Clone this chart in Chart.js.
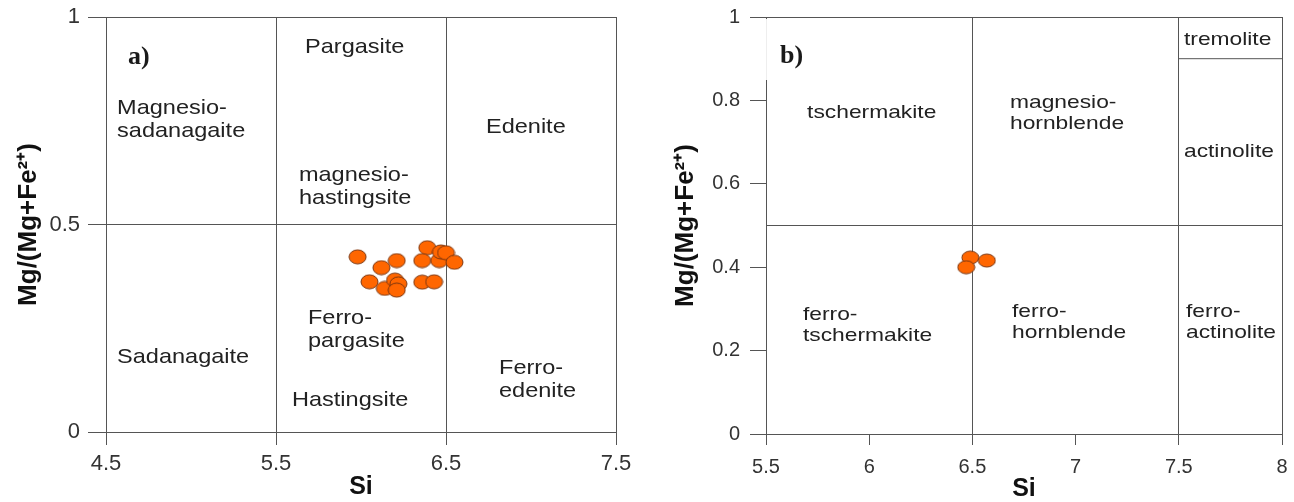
<!DOCTYPE html>
<html lang="en">
<head>
<meta charset="UTF-8" />
<title>Amphibole classification</title>
<script src="https://cdn.jsdelivr.net/npm/chart.js"></script>
<style>
  body { margin: 0; background: #fff; }
  .panel { position: absolute; top: 0; height: 502px; }
  #panelA { left: 0; width: 640px; }
  #panelB { left: 640px; width: 654px; }
</style>
</head>
<body>
<div class="panel" id="panelA"><canvas id="chartA" width="640" height="502"></canvas></div>
<div class="panel" id="panelB"><canvas id="chartB" width="654" height="502"></canvas></div>
<script>
// panel a) - calcic amphiboles, (Na+K)A >= 0.5
const siA = [5.98, 6.12, 6.21, 6.05, 6.14, 6.20, 6.22, 6.21, 6.39, 6.36, 6.46, 6.47, 6.50, 6.55, 6.36, 6.43];
const mgA = [0.422, 0.396, 0.413, 0.362, 0.346, 0.366, 0.357, 0.342, 0.444, 0.413, 0.413, 0.434, 0.432, 0.409, 0.361, 0.362];
const xTicksA = [4.5, 5.5, 6.5, 7.5];
const yTicksA = [0, 0.5, 1];

// panel b) - calcic amphiboles, (Na+K)A < 0.5
const siB = [6.49, 6.47, 6.57];
const mgB = [0.423, 0.400, 0.416];
const xTicksB = [5.5, 6, 6.5, 7, 7.5, 8];
const yTicksB = [0, 0.2, 0.4, 0.5, 0.6, 0.8, 1];
const xBoundsB = [5.5, 6.5, 7.5, 8];
const yBoundsB = [0, 0.5, 1];
const tremoliteX = [7.5, 8];
const tremoliteY = [0.9, 0.9];

// field names (left edge x, first line y, in data units)
const fieldsA = [
  { text: ['Pargasite'], x: 5.671, y: 0.928 },
  { text: ['Magnesio-', 'sadanagaite'], x: 4.565, y: 0.781 },
  { text: ['Edenite'], x: 6.735, y: 0.735 },
  { text: ['magnesio-', 'hastingsite'], x: 5.635, y: 0.619 },
  { text: ['Ferro-', 'pargasite'], x: 5.688, y: 0.275 },
  { text: ['Sadanagaite'], x: 4.565, y: 0.181 },
  { text: ['Hastingsite'], x: 5.594, y: 0.077 },
  { text: ['Ferro-', 'edenite'], x: 6.812, y: 0.154 }
];
const fieldsB = [
  { text: ['tschermakite'], x: 5.699, y: 0.770 },
  { text: ['magnesio-', 'hornblende'], x: 6.682, y: 0.794 },
  { text: ['tremolite'], x: 7.525, y: 0.945 },
  { text: ['actinolite'], x: 7.525, y: 0.676 },
  { text: ['ferro-', 'tschermakite'], x: 5.679, y: 0.285 },
  { text: ['ferro-', 'hornblende'], x: 6.692, y: 0.293 },
  { text: ['ferro-', 'actinolite'], x: 7.535, y: 0.293 }
];

const SANS = '"Liberation Sans", Arial, sans-serif';
const GRID = '#555';
const NONE = 'rgba(0,0,0,0)';

function dot(rx, ry) {
  const c = document.createElement('canvas');
  c.width = Math.ceil(rx * 2 + 2);
  c.height = Math.ceil(ry * 2 + 2);
  const g = c.getContext('2d');
  g.beginPath();
  g.ellipse(c.width / 2, c.height / 2, rx, ry, 0, 0, Math.PI * 2);
  g.fillStyle = '#ff6600';
  g.fill();
  g.strokeStyle = '#7a3510';
  g.lineWidth = 1;
  g.stroke();
  return c;
}

function fieldLabels(items, cfg) {
  return {
    id: 'fieldLabels',
    afterDatasetsDraw(chart) {
      const ctx = chart.ctx, xs = chart.scales.x, ys = chart.scales.y;
      const area = chart.chartArea;
      ctx.save();
      if (cfg.box) {
        // white box under the panel letter hides the axis line
        ctx.fillStyle = 'rgba(255,255,255,0.9)';
        ctx.fillRect(area.left - 2, area.top + 2, 50, 61);
      }
      ctx.fillStyle = '#1a1a1a';
      ctx.textBaseline = 'middle';
      ctx.textAlign = 'left';
      ctx.font = 'bold 26px "Liberation Serif", "Times New Roman", serif';
      ctx.fillText(cfg.letter, xs.getPixelForValue(cfg.letterX), ys.getPixelForValue(cfg.letterY));
      ctx.font = cfg.size + 'px ' + SANS;
      ctx.fillStyle = '#222';
      items.forEach(f => {
        const px = xs.getPixelForValue(f.x), py = ys.getPixelForValue(f.y);
        f.text.forEach((line, i) => {
          ctx.save();
          ctx.translate(px, py + i * cfg.gap);
          ctx.scale(cfg.stretch, 1);
          ctx.fillText(line, 0, 0);
          ctx.restore();
        });
      });
      ctx.restore();
    }
  };
}

function tickList(list) {
  return s => { s.ticks = list.map(v => ({ value: v })); };
}

// fixed axis box sizes, no extra padding for end labels
function fitX(h) {
  return s => { s.height = h; s.paddingLeft = 0; s.paddingRight = 0; };
}
function fitY(w) {
  return s => { s.width = w; s.paddingTop = 0; s.paddingBottom = 0; };
}

const common = {
  responsive: false,
  animation: false,
  events: [],
  plugins: { legend: { display: false }, tooltip: { enabled: false } }
};

new Chart(document.getElementById('chartA'), {
  type: 'scatter',
  data: {
    datasets: [{
      data: siA.map((v, i) => ({ x: v, y: mgA[i] })),
      pointStyle: dot(8.5, 7),
      pointRadius: 8
    }]
  },
  options: {
    ...common,
    layout: { padding: { top: 17, right: 24, bottom: 0, left: 0 } },
    scales: {
      x: {
        type: 'linear', min: 4.5, max: 7.5,
        afterBuildTicks: tickList(xTicksA),
        afterFit: fitX(70),
        grid: { color: GRID, tickColor: GRID, tickLength: 13 },
        border: { display: false },
        ticks: { color: '#333', font: { family: SANS, size: 22 }, padding: 6, autoSkip: false, maxRotation: 0, callback: v => String(v) },
        title: { display: true, text: 'Si', color: '#111', font: { family: SANS, size: 25, weight: 'bold' }, padding: { top: 0, bottom: 0 } }
      },
      y: {
        type: 'linear', min: 0, max: 1,
        afterBuildTicks: tickList(yTicksA),
        afterFit: fitY(106),
        grid: { color: GRID, tickColor: GRID, tickLength: 18 },
        border: { display: false },
        ticks: { color: '#333', font: { family: SANS, size: 22 }, padding: 8, autoSkip: false, callback: v => String(v) },
        title: { display: true, text: 'Mg/(Mg+Fe²⁺)', color: '#111', font: { family: SANS, size: 26, weight: 'bold' }, padding: { top: 13, bottom: 0 } }
      }
    }
  },
  plugins: [fieldLabels(fieldsA, { letter: 'a)', letterX: 4.629, letterY: 0.904, size: 21, gap: 23, stretch: 1.12, box: false })]
});

new Chart(document.getElementById('chartB'), {
  type: 'scatter',
  data: {
    datasets: [{
      data: tremoliteX.map((v, i) => ({ x: v, y: tremoliteY[i] })),
      showLine: true,
      borderColor: GRID,
      borderWidth: 1,
      pointRadius: 0
    }, {
      data: siB.map((v, i) => ({ x: v, y: mgB[i] })),
      pointStyle: dot(8.5, 6.5),
      pointRadius: 8
    }]
  },
  options: {
    ...common,
    layout: { padding: { top: 17, right: 12, bottom: 0, left: 0 } },
    scales: {
      x: {
        type: 'linear', min: 5.5, max: 8,
        afterBuildTicks: tickList(xTicksB),
        afterFit: fitX(68),
        grid: { color: c => xBoundsB.includes(c.tick.value) ? GRID : NONE, tickColor: GRID, tickLength: 11 },
        border: { display: false },
        ticks: { color: '#333', font: { family: SANS, size: 20 }, padding: 10, autoSkip: false, maxRotation: 0, callback: v => String(v) },
        title: { display: true, text: 'Si', color: '#111', font: { family: SANS, size: 25, weight: 'bold' }, padding: { top: 0, bottom: -2 } }
      },
      y: {
        type: 'linear', min: 0, max: 1,
        afterBuildTicks: tickList(yTicksB),
        afterFit: fitY(126),
        grid: {
          color: c => yBoundsB.includes(c.tick.value) ? GRID : NONE,
          tickColor: c => c.tick.value === 0.5 ? NONE : GRID,
          tickLength: 16
        },
        border: { display: false },
        ticks: { color: '#333', font: { family: SANS, size: 20 }, padding: 10, autoSkip: false, callback: v => v === 0.5 ? '' : String(v) },
        title: { display: true, text: 'Mg/(Mg+Fe²⁺)', color: '#111', font: { family: SANS, size: 26, weight: 'bold' }, padding: { top: 30, bottom: 0 } }
      }
    }
  },
  plugins: [fieldLabels(fieldsB, { letter: 'b)', letterX: 5.568, letterY: 0.906, size: 19, gap: 21, stretch: 1.2, box: true })]
});
</script>
</body>
</html>
